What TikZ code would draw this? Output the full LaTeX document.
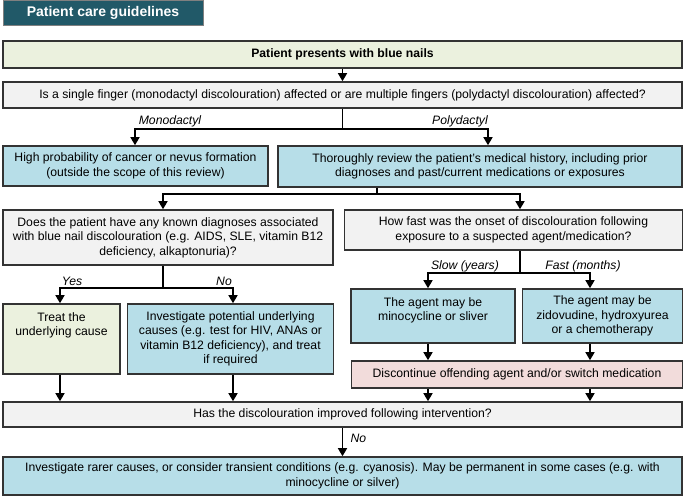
\documentclass[tikz,border=0pt]{standalone}
\usepackage{fontspec}
\setmainfont{Liberation Sans}
\usetikzlibrary{arrows.meta}

\definecolor{titleteal}{HTML}{215968}
\definecolor{boxgreen}{HTML}{EBF1DE}
\definecolor{boxgrey}{HTML}{F2F2F2}
\definecolor{boxblue}{HTML}{B7DEE8}
\definecolor{boxpink}{HTML}{F2DCDB}
\definecolor{edgegrey}{HTML}{333333}

\begin{document}
\begin{tikzpicture}[x=1pt, y=-1pt,
    every node/.style={font=\fontsize{12.2}{14.4}\selectfont},
    box/.style={draw=edgegrey, line width=1.6pt, align=center, inner sep=0pt},
    arr/.style={line width=1.5pt, -{Triangle[width=9pt,length=8pt]}},
    lbl/.style={font=\fontsize{12.2}{14.4}\selectfont\itshape}]
        \useasboundingbox (0,0) rectangle (685,498);

        \node[draw=gray, line width=1pt, fill=titleteal, text=white, font=\fontsize{14}{16}\selectfont\bfseries, minimum width=200pt, minimum height=25pt] (title) at (103,13) {Patient care guidelines};

        \node[box, fill=boxgreen, font=\fontsize{12.2}{14.4}\selectfont\bfseries, minimum width=679pt, minimum height=27pt] (present) at (342.5,54.5) {Patient presents with blue nails};
        \node[box, fill=boxgrey, minimum width=679pt, minimum height=26pt] (fingers) at (342.5,95) {Is a single finger (monodactyl discolouration) affected or are multiple fingers (polydactyl discolouration) affected?};
        \node[box, fill=boxblue, minimum width=265pt, minimum height=40pt] (cancer) at (135.5,166) {High probability of cancer or nevus formation\\(outside the scope of this review)};
        \node[box, fill=boxblue, minimum width=404pt, minimum height=41pt] (history) at (480,166.5) {Thoroughly review the patient’s medical history, including prior\\diagnoses and past/current medications or exposures};
        \node[box, fill=boxgrey, minimum width=330pt, minimum height=55pt] (diagnoses) at (168,237.5) {Does the patient have any known diagnoses associated\\with blue nail discolouration (e.g. AIDS, SLE, vitamin B12\\deficiency, alkaptonuria)?};
        \node[box, fill=boxgrey, minimum width=338pt, minimum height=40pt] (onset) at (513.5,230) {How fast was the onset of discolouration following\\exposure to a suspected agent/medication?};
        \node[box, fill=boxgreen, minimum width=117pt, minimum height=70pt] (treat) at (61.5,339) {};
        \node[anchor=north, align=center] (treattxt) at ([yshift=-6pt]treat.north) {Treat the\\underlying cause};
        \node[box, fill=boxblue, minimum width=206pt, minimum height=70pt] (underlying) at (230.5,339) {Investigate potential underlying\\causes (e.g. test for HIV, ANAs or\\vitamin B12 deficiency), and treat\\if required};
        \node[box, fill=boxblue, minimum width=164pt, minimum height=54pt] (slowagent) at (433,316) {};
        \node[anchor=north, align=center] (slowtxt) at ([yshift=-6pt]slowagent.north) {The agent may be\\minocycline or sliver};
        \node[box, fill=boxblue, minimum width=160pt, minimum height=54pt] (fastagent) at (602.5,316) {The agent may be\\zidovudine, hydroxyurea\\or a chemotherapy};
        \node[box, fill=boxpink, minimum width=331pt, minimum height=27pt] (discontinue) at (517,374.5) {Discontinue offending agent and/or switch medication};
        \node[box, fill=boxgrey, minimum width=679pt, minimum height=25pt] (improved) at (342.5,414.5) {Has the discolouration improved following intervention?};
        \node[box, fill=boxblue, minimum width=679pt, minimum height=38pt] (rarer) at (342.5,476) {Investigate rarer causes, or consider transient conditions (e.g. cyanosis). May be permanent in some cases (e.g. with\\minocycline or silver)};

        \coordinate (monoj) at (135,129);
        \coordinate (polyj) at (488,129);
        \coordinate (histj) at (377,194);
        \coordinate (diagj) at (163,194);
        \coordinate (onsetj) at (520,194);
        \coordinate (splitd) at (163,288);
        \coordinate (yesj) at (60,288);
        \coordinate (noj) at (233,288);
        \coordinate (splito) at (520,273);
        \coordinate (slowj) at (428,273);
        \coordinate (fastj) at (590,273);

        \draw[arr] (present) -- (fingers);
        \draw[arr] (fingers.south) -- (fingers.south |- monoj) -| (monoj |- cancer.north);
        \draw[arr] (fingers.south |- polyj) -| (polyj |- history.north);
        \draw[arr] (histj |- history.south) -- (histj) -| (diagj |- diagnoses.north);
        \draw[arr] (histj) -| (onsetj |- onset.north);
        \draw[arr] (splitd |- diagnoses.south) -- (splitd) -| (yesj |- treat.north);
        \draw[arr] (splitd) -| (noj |- underlying.north);
        \draw[arr] (splito |- onset.south) -- (splito) -| (slowj |- slowagent.north);
        \draw[arr] (splito) -| (fastj |- fastagent.north);
        \draw[arr] (slowj |- slowagent.south) -- (slowj |- discontinue.north);
        \draw[arr] (fastj |- fastagent.south) -- (fastj |- discontinue.north);
        \draw[arr] (slowj |- discontinue.south) -- (slowj |- improved.north);
        \draw[arr] (fastj |- discontinue.south) -- (fastj |- improved.north);
        \draw[arr] (yesj |- treat.south) -- (yesj |- improved.north);
        \draw[arr] (noj |- underlying.south) -- (noj |- improved.north);
        \draw[arr] (improved) -- (rarer);

        \node[lbl] (mono) at (170,121) {Monodactyl};
        \node[lbl] (poly) at (460,121) {Polydactyl};
        \node[lbl] (yes) at (72,281) {Yes};
        \node[lbl] (no) at (224,281) {No};
        \node[lbl] (slow) at (465,266) {Slow (years)};
        \node[lbl] (fast) at (583,266) {Fast (months)};
        \node[lbl, anchor=west] (nolast) at (347,438) {No};
    \end{tikzpicture}
\end{document}
